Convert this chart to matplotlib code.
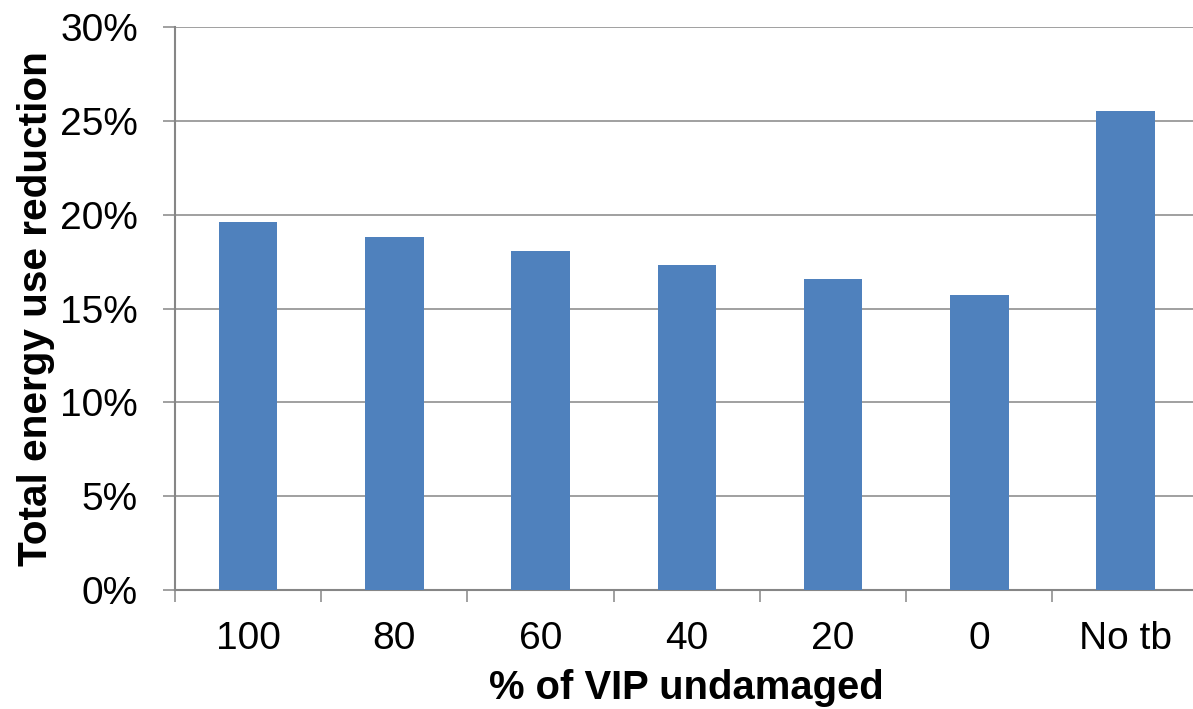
import numpy as np
import matplotlib
matplotlib.use("Agg")
import matplotlib.pyplot as plt
from matplotlib.ticker import FuncFormatter

categories = ["100", "80", "60", "40", "20", "0", "No tb"]
reduction = [19.63, 18.83, 18.08, 17.33, 16.55, 15.73, 25.50]
y_ticks = [0, 5, 10, 15, 20, 25, 30]

plt.rcParams["font.family"] = ["Liberation Sans", "DejaVu Sans"]

fig = plt.figure(figsize=(11.93, 7.09), dpi=100)
# axes run slightly past the right edge of the figure
ax = fig.add_axes([0.1467, 0.1678, 0.858, 0.7941])

x = np.arange(len(categories))
ax.bar(x, reduction, width=0.4, color="#4F81BD", zorder=3)

ax.set_xlim(-0.5, len(categories) - 0.5)
ax.set_ylim(0, 30)
ax.set_yticks(y_ticks)
ax.yaxis.set_major_formatter(FuncFormatter(lambda v, _: f"{v:.0f}%"))
ax.set_xticks(np.arange(len(categories) + 1) - 0.5)
ax.set_xticklabels([])
ax.set_xticks(x, minor=True)
ax.set_xticklabels(categories, minor=True)

ax.grid(True, axis="y", color="#868686", linewidth=1.1, zorder=0)
for s in ["top", "right"]:
    ax.spines[s].set_visible(False)
for s in ["left", "bottom"]:
    ax.spines[s].set_color("#868686")
    ax.spines[s].set_linewidth(1.5)

ax.tick_params(axis="y", which="major", length=8.6, width=1.1, color="#868686",
               labelsize=28, pad=18)
ax.tick_params(axis="x", which="major", length=8.6, width=1.1, color="#868686")
ax.tick_params(axis="x", which="minor", length=0, labelsize=28, pad=22)

ax.set_xlabel("% of VIP undamaged", fontsize=28.8, fontweight="bold", labelpad=9)
ax.set_ylabel("Total energy use reduction", fontsize=29.2, fontweight="bold", labelpad=4)

fig.savefig("out.png", dpi=100)
